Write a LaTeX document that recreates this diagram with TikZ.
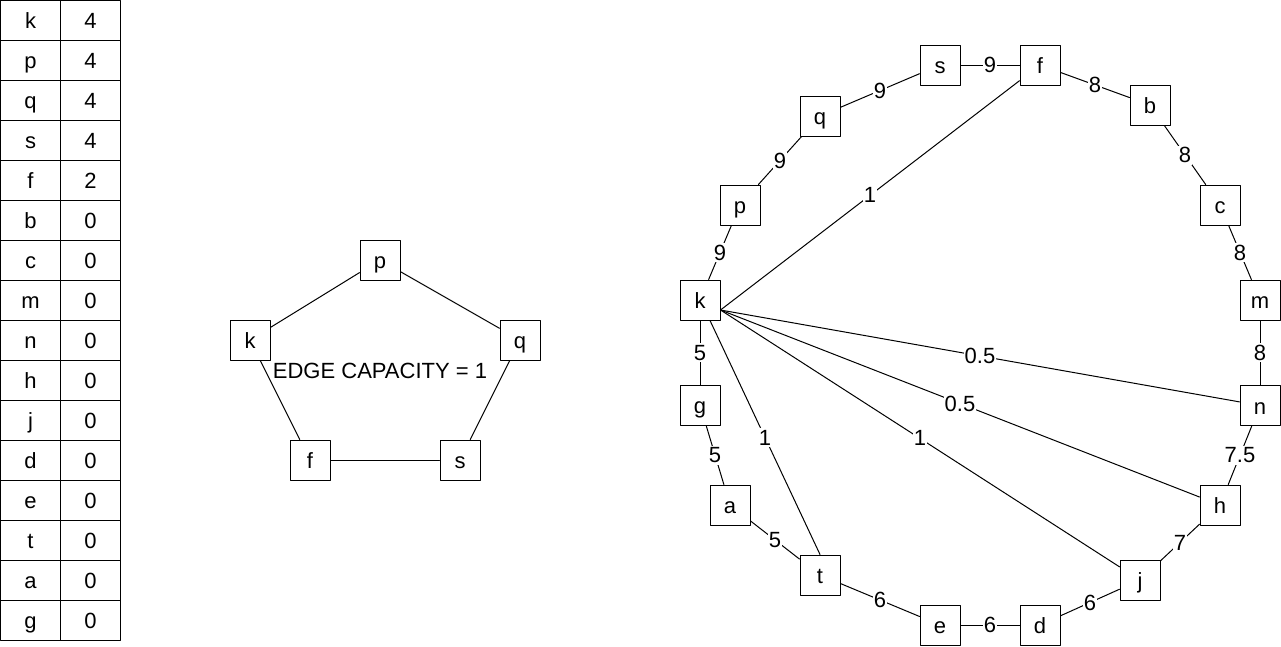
\documentclass[tikz,border=0pt]{standalone}
\usepackage{fontspec}
\setmainfont{Liberation Sans}

\begin{document}
\begin{tikzpicture}[line cap=round,line join=round,x=1pt,y=-1pt,
		every node/.style={font=\fontsize{22}{26}\selectfont, text height=19pt, text depth=2pt},
		cell/.style={draw, line width=1pt, minimum width=60pt, minimum height=40pt, inner sep=0pt, outer sep=0pt},
		box/.style={draw, line width=1pt, minimum size=40pt, inner sep=0pt},
		lbl/.style={fill=white, inner xsep=1pt, inner ysep=2pt, text height=15pt, text depth=0pt},
		link/.style={line width=1pt}]
			\useasboundingbox (0,0) rectangle (1281,646);
			
			% table of values
			\foreach \n/\v [count=\i] in {k/4,p/4,q/4,s/4,f/2,b/0,c/0,m/0,n/0,h/0,j/0,d/0,e/0,t/0,a/0,g/0}{
				\node[cell] (name\i) at (30.5,{40*\i-20}) {\n};
				\node[cell] (val\i) at (90.5,{40*\i-20}) {\v};}
			
			% pentagon
			\node[box] (pp) at (380,260) {p};
			\node[box] (pq) at (520,340) {q};
			\node[box] (ps) at (460,460) {s};
			\node[box] (pf) at (310,460) {f};
			\node[box] (pk) at (250,340) {k};
			\foreach \u/\w in {pk/pp, pp/pq, pq/ps, ps/pf, pf/pk}{
				\draw[link] (\u) -- (\w);}
			\node (cap) at (380,370) {EDGE CAPACITY = 1};
			
			% big graph
			\foreach \n/\x/\y in {k/700/300, p/740/205, q/820/116, s/940/65, f/1040/65, b/1150/105,
				c/1220/205, m/1260/300, n/1260/405.5, h/1220/505, j/1140/580, d/1040/625,
				e/940/625, t/820/575, a/730/505, g/700/405}{
				\node[box] (\n) at (\x,\y) {\n};}
			\foreach \u/\w/\c in {k/p/9, p/q/9, q/s/9, s/f/9, f/b/8, b/c/8, c/m/8, m/n/8,
				n/h/7.5, h/j/7, j/d/6, d/e/6, e/t/6, t/a/5, a/g/5, g/k/5}{
				\draw[link] (\u) -- node[lbl] {\c} (\w);}
			\foreach \w/\c in {f/1, n/0.5, h/0.5, j/1}{
				\draw[link] ([yshift=-10pt]k.east) -- node[lbl] {\c} (\w);}
			\draw[link] ([xshift=10pt]k.south) -- node[lbl] {1} (t.north);
		\end{tikzpicture}
\end{document}
